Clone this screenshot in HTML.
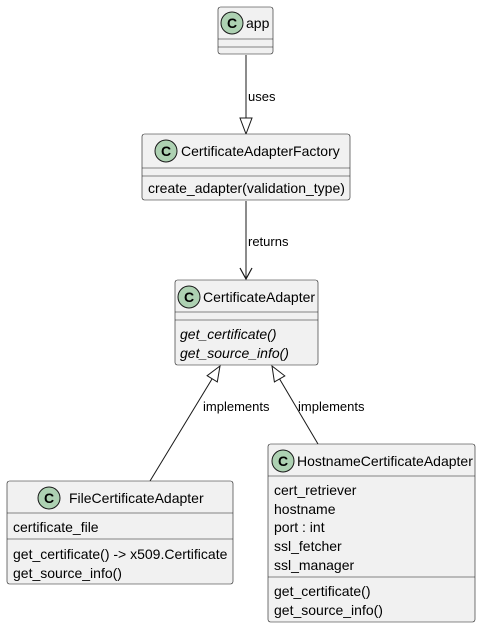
<!DOCTYPE html>
<html><head><meta charset="utf-8"><style>
html,body{margin:0;padding:0;background:#fff;}
svg{display:block;}
text{font-family:"Liberation Sans",sans-serif;font-size:14px;fill:#000;}
.s{font-size:13px;}
.b{fill:#F1F1F1;stroke:#181818;stroke-width:0.6;}
.l{stroke:#181818;stroke-width:0.6;}
.c{fill:#ADD1B2;stroke:#181818;stroke-width:1;}
.ct{font-size:14px;font-weight:bold;}
</style></head><body>
<svg width="481" height="628" viewBox="0 0 481 628" xmlns="http://www.w3.org/2000/svg">
<line x1="246" y1="55" x2="246" y2="120" stroke="#181818" stroke-width="1"/>
<polygon points="240,118 252,118 246,134" fill="#fff" stroke="#181818" stroke-width="1"/>
<text class="s" x="248" y="101">uses</text>
<line x1="246" y1="201" x2="246" y2="279" stroke="#181818" stroke-width="1"/>
<polyline points="240,268 246,279 252,268" fill="none" stroke="#181818" stroke-width="1.2"/>
<text class="s" x="248" y="246">returns</text>
<line x1="212" y1="379" x2="150" y2="481" stroke="#181818" stroke-width="1"/>
<polygon points="220,366 207.1,375.7 217.3,381.9" fill="#fff" stroke="#181818" stroke-width="1"/>
<text class="s" x="203" y="411">implements</text>
<line x1="279.6" y1="379" x2="318" y2="444" stroke="#181818" stroke-width="1"/>
<polygon points="272,366 284.8,375.9 274.4,381.9" fill="#fff" stroke="#181818" stroke-width="1"/>
<text class="s" x="298" y="411">implements</text>

<rect class="b" x="218" y="7" width="55" height="47" rx="2.5"/>
<line class="l" x1="218" y1="39" x2="273" y2="39"/>
<line class="l" x1="218" y1="47" x2="273" y2="47"/>
<circle class="c" cx="232" cy="23" r="11"/>
<text class="ct" x="227" y="28">C</text>
<text x="246" y="28">app</text>

<rect class="b" x="142" y="134" width="208" height="66" rx="2.5"/>
<line class="l" x1="142" y1="168" x2="350" y2="168"/>
<line class="l" x1="142" y1="176" x2="350" y2="176"/>
<circle class="c" cx="166" cy="151" r="11"/>
<text class="ct" x="161" y="156">C</text>
<text x="181" y="156">CertificateAdapterFactory</text>
<text x="148" y="193">create_adapter(validation_type)</text>

<rect class="b" x="175" y="280" width="143" height="85" rx="2.5"/>
<line class="l" x1="175" y1="312" x2="318" y2="312"/>
<line class="l" x1="175" y1="320" x2="318" y2="320"/>
<circle class="c" cx="189" cy="297" r="11"/>
<text class="ct" x="184" y="302">C</text>
<text x="203" y="302">CertificateAdapter</text>
<text x="180" y="339" font-style="italic">get_certificate()</text>
<text x="180" y="358" font-style="italic">get_source_info()</text>

<rect class="b" x="7" y="481" width="226" height="103" rx="2.5"/>
<line class="l" x1="7" y1="513" x2="233" y2="513"/>
<line class="l" x1="7" y1="539" x2="233" y2="539"/>
<circle class="c" cx="49" cy="498" r="11"/>
<text class="ct" x="44" y="503">C</text>
<text x="69" y="503">FileCertificateAdapter</text>
<text x="13" y="532">certificate_file</text>
<text x="13" y="559">get_certificate() -&gt; x509.Certificate</text>
<text x="13" y="578">get_source_info()</text>

<rect class="b" x="268" y="444" width="207" height="178" rx="2.5"/>
<line class="l" x1="268" y1="476" x2="475" y2="476"/>
<line class="l" x1="268" y1="577" x2="475" y2="577"/>
<circle class="c" cx="283" cy="461" r="11"/>
<text class="ct" x="278" y="466">C</text>
<text x="297" y="466">HostnameCertificateAdapter</text>
<text x="274" y="495">cert_retriever</text>
<text x="274" y="514">hostname</text>
<text x="274" y="532">port : int</text>
<text x="274" y="551">ssl_fetcher</text>
<text x="274" y="570">ssl_manager</text>
<text x="274" y="596">get_certificate()</text>
<text x="274" y="615">get_source_info()</text>
</svg>
</body></html>
